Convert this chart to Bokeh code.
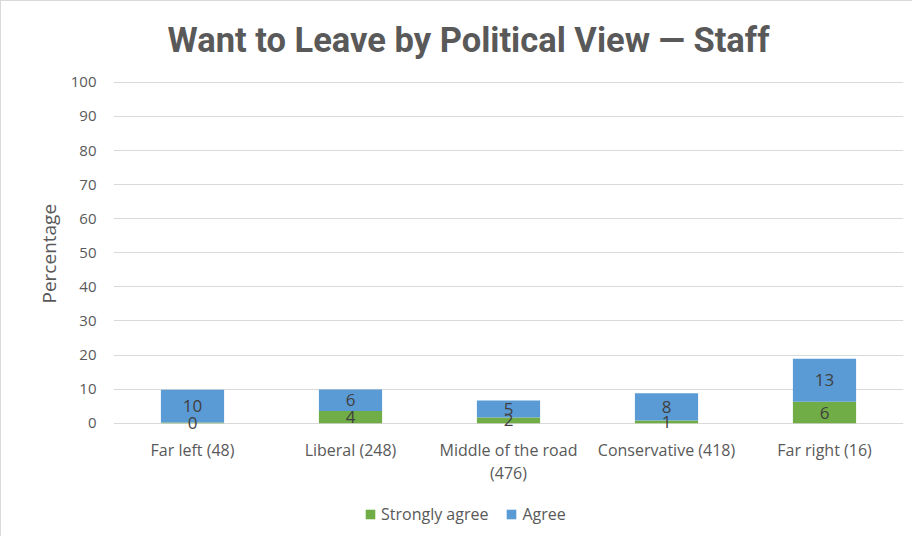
from bokeh.plotting import figure
from bokeh.models import ColumnDataSource, Range1d, LabelSet, Label, Legend, LegendItem, Title
from bokeh.core.properties import value
from bokeh.embed import file_html
from bokeh.resources import INLINE

categories = ["Far left (48)", "Liberal (248)", "Middle of the road (476)",
              "Conservative (418)", "Far right (16)"]
tick_line1 = ["Far left (48)", "Liberal (248)", "Middle of the road",
              "Conservative (418)", "Far right (16)"]
tick_line2 = ["", "", "(476)", "", ""]
strongly_agree = [0.2, 3.6, 1.7, 0.8, 6.3]
agree = [9.6, 6.3, 5.0, 8.0, 12.6]
y_ticks = [0, 10, 20, 30, 40, 50, 60, 70, 80, 90, 100]

GREEN = "#70ad47"
BLUE = "#5b9bd5"
GREY = "#595959"
FONT = "Open Sans"

# layout: frame covers the full figure height; y range chosen so 0..100 sits where the reference draws it
Y_START, Y_END = -33.5, 123.7
LINE1_Y, LINE2_Y = -7.9, -14.6

src = ColumnDataSource(dict(
    cat=categories,
    strongly=strongly_agree,
    agree=agree,
    s_mid=[s / 2 for s in strongly_agree],
    a_mid=[s + a / 2 for s, a in zip(strongly_agree, agree)],
    s_txt=[str(round(s)) for s in strongly_agree],
    a_txt=[str(round(a)) for a in agree],
    l1=tick_line1, l2=tick_line2,
    l1y=[LINE1_Y] * len(categories), l2y=[LINE2_Y] * len(categories),
))

p = figure(x_range=categories, y_range=Range1d(Y_START, Y_END),
           width=912, height=536, output_backend="svg", toolbar_location=None,
           min_border_left=112, min_border_right=10, min_border_top=0,
           min_border_bottom=0)
p.styles = {"border-top": "1px solid #d9d9d9", "border-left": "1px solid #d9d9d9"}
p.outline_line_color = None

rs = p.vbar_stack(["strongly", "agree"], x="cat", width=0.4, source=src,
                  color=[GREEN, BLUE], line_color=None)

p.xgrid.grid_line_color = None
p.ygrid.grid_line_color = "#d9d9d9"
p.ygrid.grid_line_width = 1
p.xaxis.visible = False

p.yaxis.ticker = y_ticks
p.yaxis.axis_line_color = None
p.yaxis.major_tick_line_color = None
p.yaxis.minor_tick_line_color = None
p.yaxis.major_tick_out = 0
p.yaxis.major_tick_in = 0
p.yaxis.major_label_standoff = 17
p.yaxis.major_label_text_font = FONT
p.yaxis.major_label_text_font_size = "15px"
p.yaxis.major_label_text_color = GREY

p.add_layout(Title(text="Percentage", align="left", offset=234, standoff=12,
                   text_font=FONT, text_font_style="normal", text_font_size="19px",
                   text_color=GREY), "left")

for ycol, tcol in (("s_mid", "s_txt"), ("a_mid", "a_txt")):
    p.add_layout(LabelSet(x="cat", y=ycol, text=tcol, source=src,
                          text_align="center", text_baseline="middle",
                          text_font=value(FONT), text_font_size="17px",
                          text_color="#404040"))

for ycol, tcol in (("l1y", "l1"), ("l2y", "l2")):
    p.add_layout(LabelSet(x="cat", y=ycol, text=tcol, source=src,
                          text_align="center", text_baseline="middle",
                          text_font=value(FONT), text_font_size="16px",
                          text_color=GREY))

p.add_layout(Label(x=2.247, y=112.3, text="Want to Leave by Political View \u2014 Staff",
                   text_align="center", text_baseline="middle",
                   text_font="Roboto", text_font_style="bold",
                   text_font_size="34.5px", text_color=GREY))

legend = Legend(items=[LegendItem(label="Strongly agree", renderers=[rs[0]]),
                       LegendItem(label="Agree", renderers=[rs[1]])],
                orientation="horizontal", location=(251, 12),
                label_text_font=FONT, label_text_font_size="16px",
                label_text_color=GREY, glyph_width=12, glyph_height=12,
                label_standoff=5, spacing=17, padding=10, margin=0,
                border_line_color=None, background_fill_alpha=0)
p.add_layout(legend, "center")

open("out.html", "w").write(file_html(p, INLINE))
